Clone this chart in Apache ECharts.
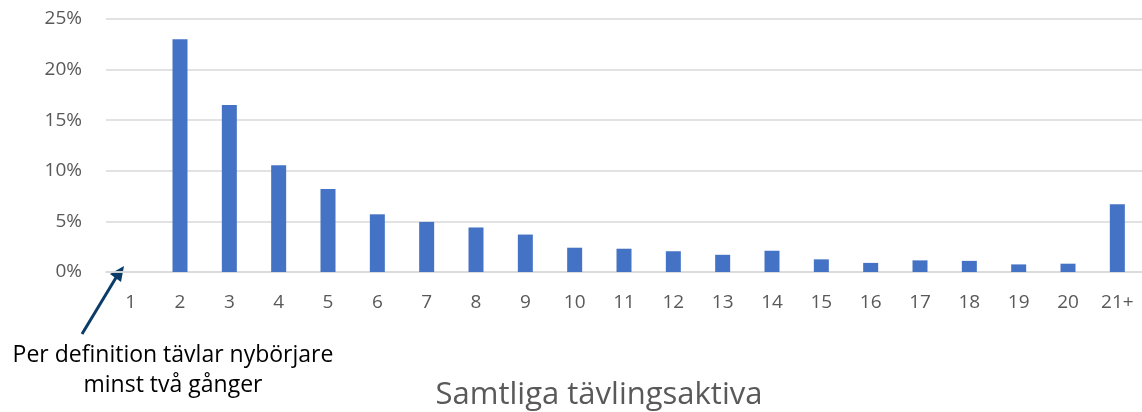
<!DOCTYPE html>
<html><head><meta charset="utf-8">
<script src="https://cdn.jsdelivr.net/npm/echarts@6/dist/echarts.min.js"></script>
<style>html,body{margin:0;padding:0;background:#fff}#c{width:1142px;height:412px}</style>
</head><body><div id="c"></div>
<script>
const categories = ['1','2','3','4','5','6','7','8','9','10','11','12','13','14','15','16','17','18','19','20','21+'];
const values = [0, 23.0, 16.5, 10.55, 8.2, 5.7, 4.95, 4.4, 3.7, 2.4, 2.3, 2.05, 1.7, 2.1, 1.25, 0.9, 1.15, 1.1, 0.75, 0.82, 6.7];
const yTicks = [0, 5, 10, 15, 20, 25];
const titleText = 'Samtliga tävlingsaktiva';
const noteLines = ['Per definition tävlar nybörjare', 'minst två gånger'];

const chart = echarts.init(document.getElementById('c'), null, {renderer: 'canvas'});
const font = '"Open Sans", sans-serif';
chart.setOption({
  animation: false,
  title: {
    text: titleText, left: 594, top: 375, textAlign: 'center',
    textStyle: {color: '#595959', fontSize: 31, fontWeight: 'normal', fontFamily: font}
  },
  grid: {left: 106, right: 0, top: 19, bottom: 140, containLabel: false},
  xAxis: {
    type: 'category', data: categories,
    axisLine: {show: true, lineStyle: {color: '#d9d9d9', width: 1.5}},
    axisTick: {show: false},
    axisLabel: {color: '#595959', fontSize: 19, fontFamily: font, margin: 21, interval: 0}
  },
  yAxis: {
    type: 'value', min: yTicks[0], max: yTicks[yTicks.length - 1], interval: 5,
    axisLine: {show: false}, axisTick: {show: false},
    splitLine: {lineStyle: {color: '#d9d9d9', width: 1.5}},
    axisLabel: {color: '#595959', fontSize: 19, fontFamily: font, margin: 24, formatter: v => v + '%'}
  },
  series: [{
    type: 'bar', data: values, barWidth: 15,
    itemStyle: {color: '#4472C4'}
  }],
  graphic: [
    {type: 'line', shape: {x1: 82, y1: 334, x2: 117, y2: 276},
     style: {stroke: '#0b3c68', lineWidth: 3}},
    {type: 'polygon', shape: {points: [[124, 266], [110, 274], [121, 282]]},
     style: {fill: '#0b3c68'}},
    {type: 'text', x: 173, y: 340,
     style: {text: noteLines.join('\n'), fill: '#000', fontSize: 23, fontFamily: font, align: 'center', lineHeight: 30}}
  ]
});
</script></body></html>
